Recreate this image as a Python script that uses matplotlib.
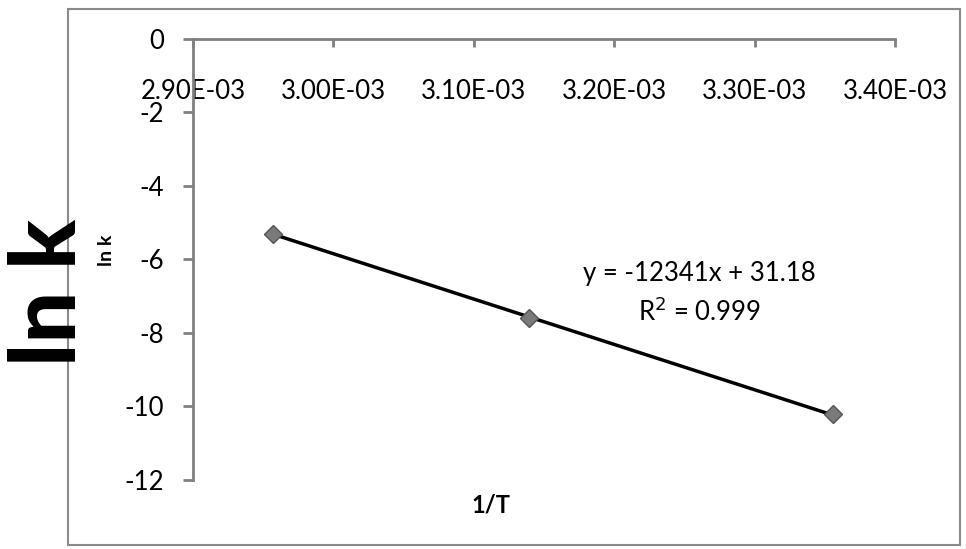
import numpy as np
import matplotlib.pyplot as plt
from matplotlib.patches import Rectangle
from matplotlib.ticker import FuncFormatter

# 1/T (1/K) and ln k values
inv_T = [2.957e-3, 3.139e-3, 3.356e-3]
ln_k = [-5.30, -7.59, -10.20]

# trendline coefficients
slope = -12341
intercept = 31.18
r_squared = 0.999

x_ticks = [2.90e-3, 3.00e-3, 3.10e-3, 3.20e-3, 3.30e-3, 3.40e-3]
y_ticks = [0, -2, -4, -6, -8, -10, -12]

plt.rcParams['font.family'] = ['Lato', 'DejaVu Sans']

fig = plt.figure(figsize=(9.66, 5.49), dpi=100)
ax = fig.add_axes([0.1998, 0.1257, 0.7267, 0.8033])

# chart area border
fig.patches.append(Rectangle((68 / 966, 1 - 545 / 549), (960 - 68) / 966, (545 - 9) / 549,
                             transform=fig.transFigure, fill=False,
                             edgecolor='#8a8a8a', linewidth=1.5))

# linear trendline over the data range
xs = np.array([inv_T[0], inv_T[-1]])
ax.plot(xs, slope * xs + intercept, color='black', linewidth=2.5, zorder=2)
ax.plot(inv_T, ln_k, linestyle='none', marker='D', markersize=9,
        markerfacecolor='#7a7a7a', markeredgecolor='#555555', zorder=3)

ax.set_xlim(2.90e-3, 3.40e-3)
ax.set_ylim(-12, 0)
ax.set_xticks(x_ticks)
ax.set_yticks(y_ticks)
ax.xaxis.set_major_formatter(FuncFormatter(lambda v, p: '%.2E' % v))
ax.yaxis.set_major_formatter(FuncFormatter(lambda v, p: '%d' % v))

ax.spines['top'].set_visible(False)
ax.spines['right'].set_visible(False)
ax.spines['bottom'].set_position(('data', 0))
for s in ('left', 'bottom'):
    ax.spines[s].set_color('#808080')
    ax.spines[s].set_linewidth(2)

ax.tick_params(axis='x', direction='out', length=6, width=2, color='#808080',
               pad=23, labelsize=18.5)
ax.tick_params(axis='y', direction='out', length=7, width=2, color='#808080',
               pad=14, labelsize=18.5)

ax.text(3.261e-3, -6.37, 'y = -12341x + 31.18', ha='center', va='center', fontsize=18.5)
ax.text(3.261e-3, -7.43, 'R$^2$ = %.3f' % r_squared, ha='center', va='center', fontsize=18.5)

# axis titles
fig.text(491 / 966, 1 - 505 / 549, '1/T', ha='center', va='center',
         fontsize=17, fontweight='bold')
fig.text(107 / 966, 1 - 250 / 549, 'ln k', ha='center', va='center',
         fontsize=14, fontweight='bold', rotation=90)
fig.text(50 / 966, 1 - 292 / 549, 'ln k', ha='center', va='center',
         fontsize=66, fontweight='black', rotation=90, color='black')

fig.savefig('out.png', dpi=100)
